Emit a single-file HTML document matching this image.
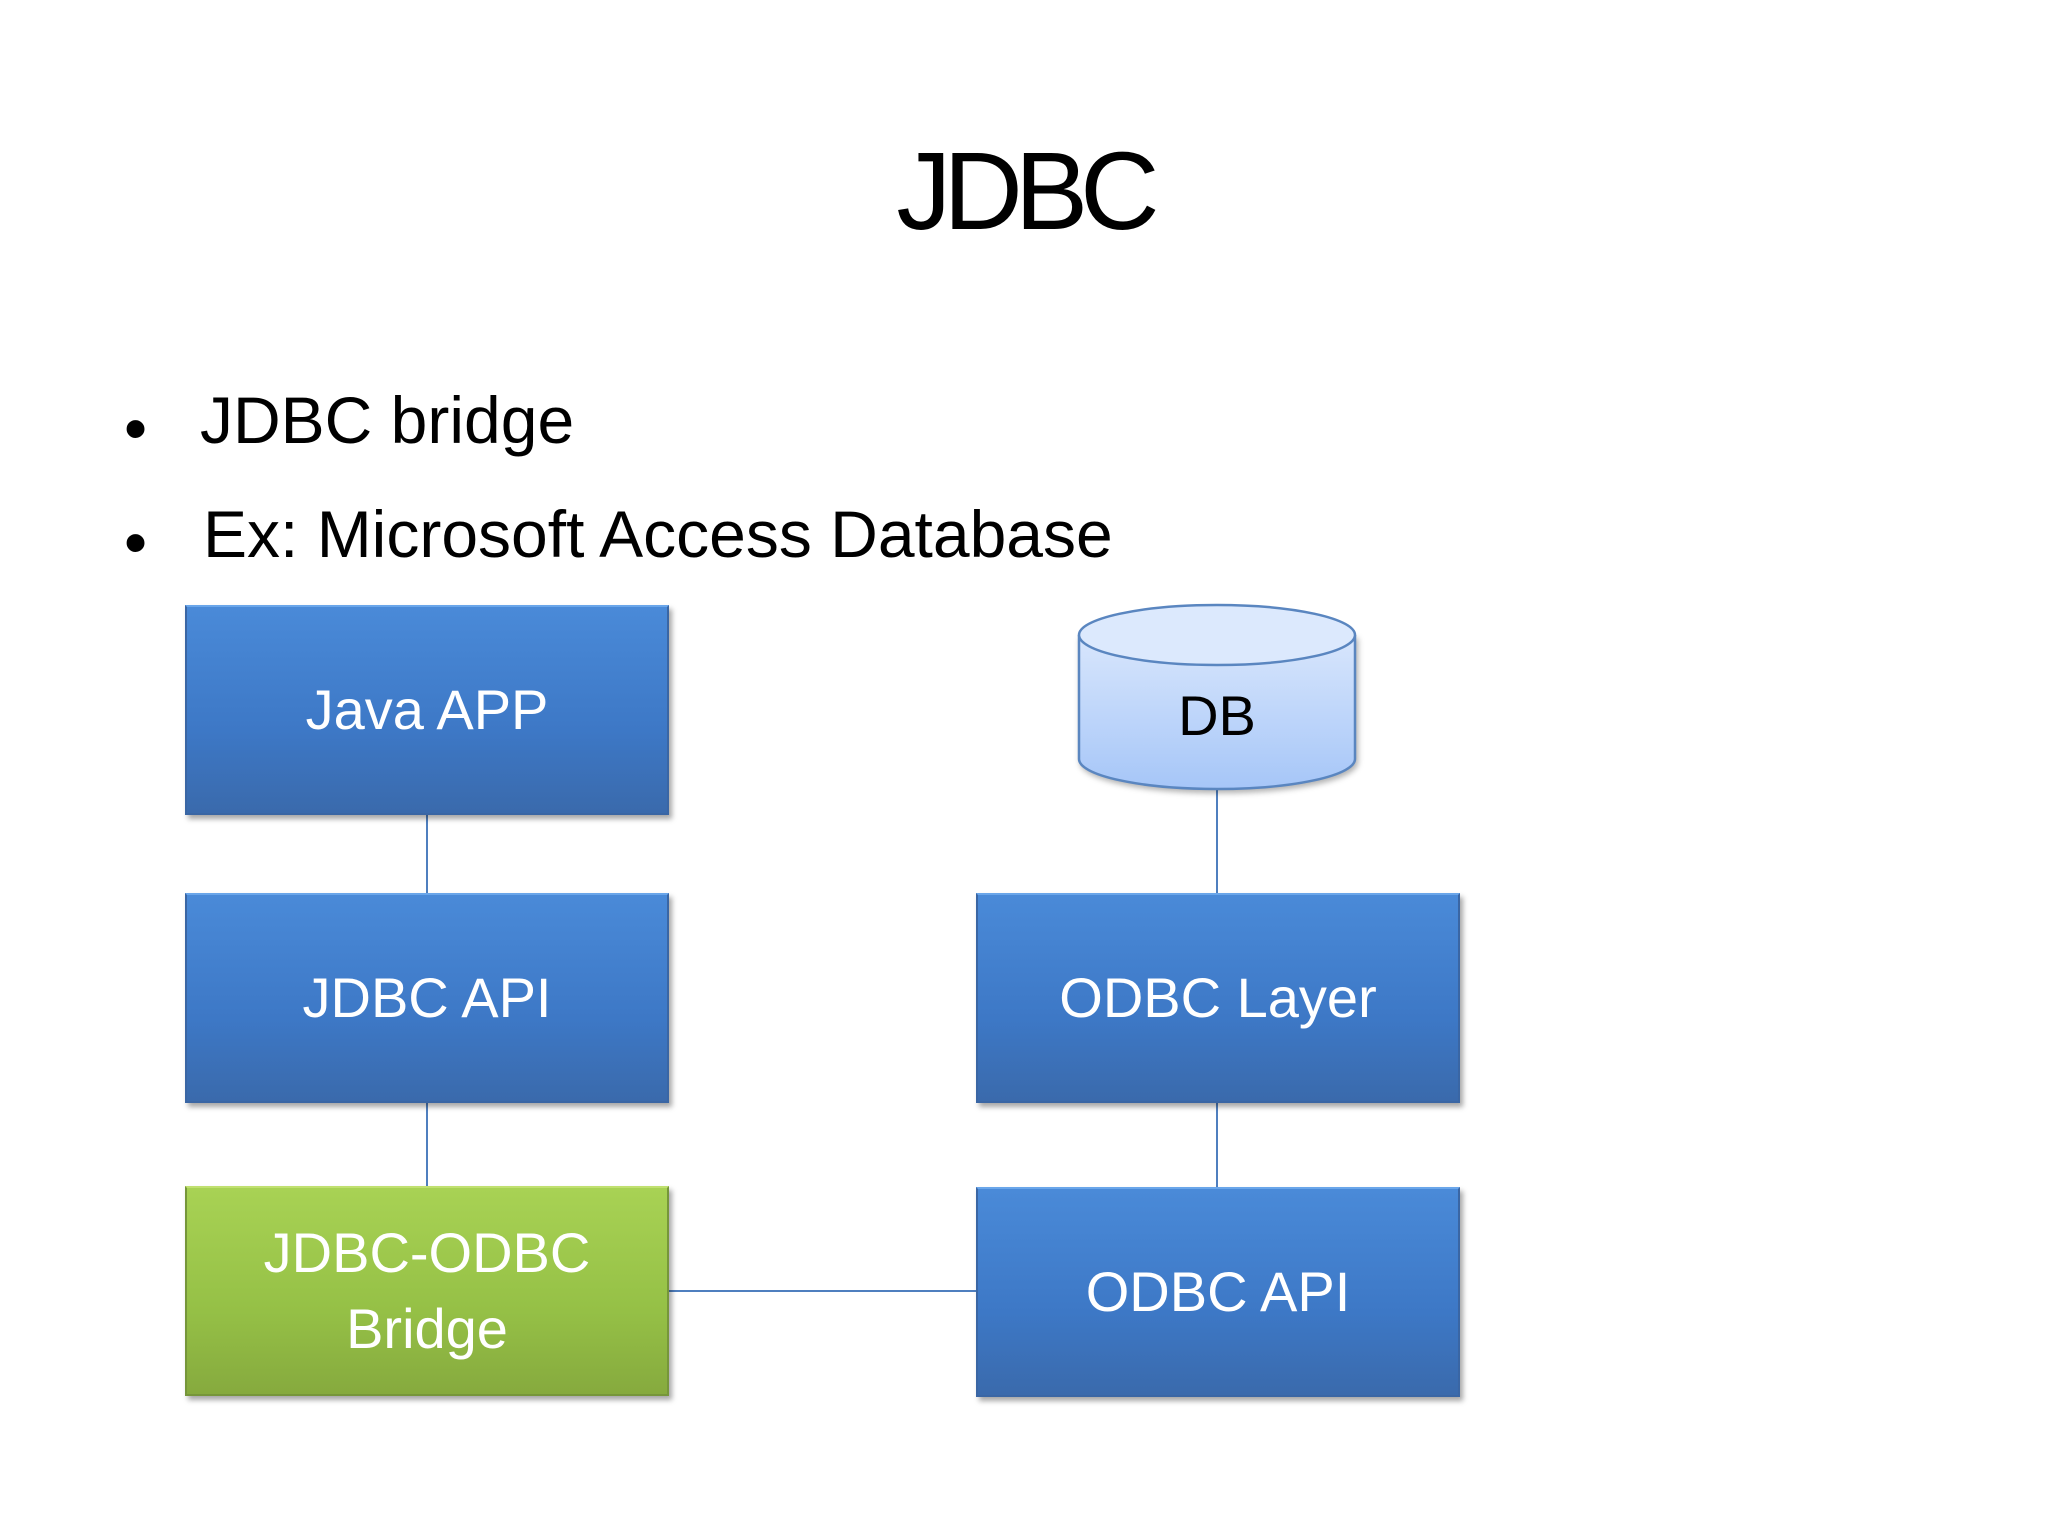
<!DOCTYPE html>
<html><head><meta charset="utf-8"><style>
body{margin:0;width:2048px;height:1536px;background:#fff;position:relative;overflow:hidden;font-family:"Liberation Sans",sans-serif;}
.t{position:absolute;white-space:nowrap;color:#000;}
.box{position:absolute;box-sizing:border-box;color:#fff;font-size:56px;display:flex;align-items:center;justify-content:center;text-align:center;line-height:1.35;
box-shadow:3px 4px 5px rgba(0,0,0,0.35);}
.blue{background:linear-gradient(#4a8ad8,#3d78c6 60%,#3a6aac);border:2px solid #3a66a4;border-top-color:#6aa6ea;}
.green{background:linear-gradient(#a8d254,#95c046 60%,#86aa3e);border:2px solid #76963a;border-top-color:#c0e070;}
.ln{position:absolute;background:#4f7fbf;}
</style></head><body>
<div class="t" style="left:0;width:2048px;text-align:center;top:128px;font-size:110px;letter-spacing:-8px;">JDBC</div>
<div class="t" style="left:124px;top:390px;font-size:66px;">•</div>
<div class="t" style="left:200px;top:382px;font-size:66px;">JDBC bridge</div>
<div class="t" style="left:124px;top:504px;font-size:66px;">•</div>
<div class="t" style="left:203px;top:496px;font-size:66px;">Ex: Microsoft Access Database</div>

<div class="ln" style="left:426px;top:815px;width:2px;height:80px;"></div>
<div class="ln" style="left:426px;top:1102px;width:2px;height:86px;"></div>
<div class="ln" style="left:1216px;top:790px;width:2px;height:105px;"></div>
<div class="ln" style="left:1216px;top:1102px;width:2px;height:86px;"></div>
<div class="ln" style="left:669px;top:1290px;width:308px;height:2px;"></div>

<div class="box blue" style="left:185px;top:605px;width:484px;height:210px;">Java APP</div>
<div class="box blue" style="left:185px;top:893px;width:484px;height:210px;">JDBC API</div>
<div class="box green" style="left:185px;top:1186px;width:484px;height:210px;">JDBC-ODBC<br>Bridge</div>
<div class="box blue" style="left:976px;top:893px;width:484px;height:210px;">ODBC Layer</div>
<div class="box blue" style="left:976px;top:1187px;width:484px;height:210px;">ODBC API</div>

<svg style="position:absolute;left:1070px;top:598px;" width="300" height="205">
<defs><linearGradient id="g" x1="0" y1="0" x2="0" y2="1"><stop offset="0" stop-color="#d8e6fc"/><stop offset="1" stop-color="#a6c6f8"/></linearGradient></defs>
<path d="M9,37 L9,161 A138,30 0 0 0 285,161 L285,37" fill="url(#g)" stroke="#5a86c0" stroke-width="2.5" filter="drop-shadow(2px 3px 3px rgba(0,0,0,0.3))"/>
<ellipse cx="147" cy="37" rx="138" ry="30" fill="#dce9fd" stroke="#5a86c0" stroke-width="2.5"/>
<text x="147" y="137" text-anchor="middle" font-family="Liberation Sans" font-size="56" fill="#000">DB</text>
</svg>
</body></html>
